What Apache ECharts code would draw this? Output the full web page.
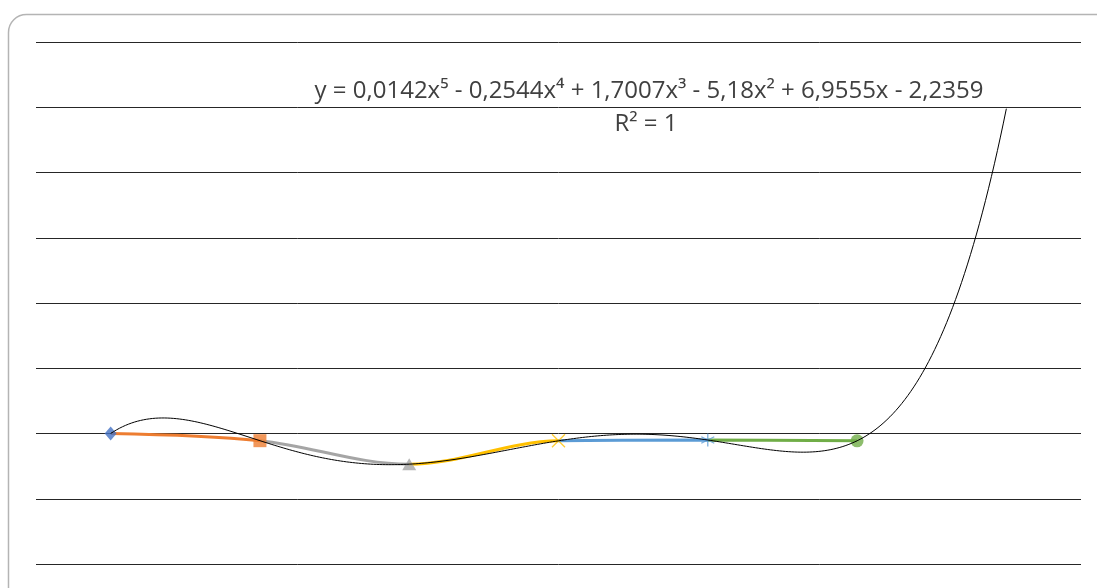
<!DOCTYPE html>
<html>
<head>
<meta charset="utf-8">
<script src="https://cdn.jsdelivr.net/npm/echarts@6/dist/echarts.min.js"></script>
<style>
html,body{margin:0;padding:0;background:#fff;}
#chart{width:1097px;height:588px;}
</style>
</head>
<body>
<div id="chart"></div>
<script>
// ---- data ----
const xValues = [1, 2, 3, 4, 5, 6];
const yValues = [1.0, 0.945, 0.765, 0.944, 0.95, 0.944];
const pointColors = ['#4472C4', '#ED7D31', '#A5A5A5', '#FFC000', '#5B9BD5', '#70AD47'];
const pointSymbols = ['diamond', 'rect', 'triangle', 'x', 'asterisk', 'circle'];
const trendDegree = 5;
const trendForwardTo = 7;
const equationText = 'y = 0,0142x\u2075 - 0,2544x\u2074 + 1,7007x\u00B3 - 5,18x\u00B2 + 6,9555x - 2,2359';
const r2Text = 'R\u00B2 = 1';

// ---- polynomial least squares trendline (as the spreadsheet does) ----
function polyFit(xs, ys, deg) {
  const n = deg + 1;
  const A = [];
  for (let i = 0; i < n; i++) {
    A.push(new Array(n + 1).fill(0));
    for (let j = 0; j < n; j++) {
      let s = 0;
      for (let k = 0; k < xs.length; k++) s += Math.pow(xs[k], i + j);
      A[i][j] = s;
    }
    let t = 0;
    for (let k = 0; k < xs.length; k++) t += ys[k] * Math.pow(xs[k], i);
    A[i][n] = t;
  }
  for (let c = 0; c < n; c++) {
    let p = c;
    for (let r = c + 1; r < n; r++) if (Math.abs(A[r][c]) > Math.abs(A[p][c])) p = r;
    [A[c], A[p]] = [A[p], A[c]];
    for (let r = 0; r < n; r++) {
      if (r === c) continue;
      const f = A[r][c] / A[c][c];
      for (let j = c; j <= n; j++) A[r][j] -= f * A[c][j];
    }
  }
  return A.map((row, i) => row[n] / row[i]);
}
const coef = polyFit(xValues, yValues, trendDegree);
const evalPoly = x => coef.reduce((s, c, i) => s + c * Math.pow(x, i), 0);
const trendData = [];
const x0 = xValues[0];
for (let i = 0; i <= 300; i++) {
  const x = x0 + (trendForwardTo - x0) * i / 300;
  trendData.push([x, evalPoly(x)]);
}

const symbolPaths = {
  x: 'path://M0,0L10,10M10,0L0,10',
  asterisk: 'path://M5,0L5,10M0.7,2.5L9.3,7.5M0.7,7.5L9.3,2.5'
};
const markerData = xValues.map((x, i) => {
  const s = pointSymbols[i];
  const isStroke = s === 'x' || s === 'asterisk';
  return {
    value: [x, yValues[i]],
    symbol: symbolPaths[s] || s,
    symbolSize: s === 'diamond' ? [12, 14] : s === 'triangle' ? [14, 12] : 13,
    itemStyle: isStroke
      ? { color: 'none', borderColor: pointColors[i], borderWidth: 1.3 }
      : { color: pointColors[i] }
  };
});

const pieces = [];
for (let i = 1; i < xValues.length; i++) {
  pieces.push({ gt: xValues[i - 1], lte: xValues[i], color: pointColors[i] });
}
pieces[0].gte = xValues[0]; delete pieces[0].gt;

const chart = echarts.init(document.getElementById('chart'), null, { renderer: 'canvas' });
chart.setOption({
  animation: false,
  backgroundColor: '#fff',
  grid: { left: 36, right: 16, top: 42, bottom: 24, containLabel: false },
  xAxis: {
    type: 'value', min: 0.5, max: 7.5,
    axisLine: { show: false }, axisTick: { show: false }, axisLabel: { show: false },
    splitLine: { show: false }
  },
  yAxis: {
    type: 'value', min: 0, max: 4, interval: 0.5,
    axisLine: { show: false }, axisTick: { show: false }, axisLabel: { show: false },
    splitLine: { show: true, lineStyle: { color: '#262626', width: 1 } }
  },
  visualMap: {
    show: false, type: 'piecewise', dimension: 0, seriesIndex: 0, pieces: pieces
  },
  series: [
    {
      type: 'line', data: xValues.map((x, i) => [x, yValues[i]]),
      smooth: 0.35, showSymbol: false, lineStyle: { width: 3 }, z: 2
    },
    {
      type: 'scatter', data: markerData, z: 3
    },
    {
      type: 'line', data: trendData, showSymbol: false, smooth: false,
      lineStyle: { color: '#000', width: 1 }, z: 4
    }
  ],
  graphic: [
    {
      type: 'rect', silent: true, z: 10,
      shape: { x: 8.5, y: 14.5, width: 1120, height: 620, r: 18 },
      style: { fill: 'none', stroke: '#b4b4b4', lineWidth: 1.5 }
    },
    {
      type: 'text', z: 10, x: 649, y: 91,
      style: { text: equationText, font: '24px "Open Sans"', fill: '#404040', align: 'center', verticalAlign: 'middle' }
    },
    {
      type: 'text', z: 10, x: 646, y: 124,
      style: { text: r2Text, font: '24px "Open Sans"', fill: '#404040', align: 'center', verticalAlign: 'middle' }
    }
  ]
});
</script>
</body>
</html>
